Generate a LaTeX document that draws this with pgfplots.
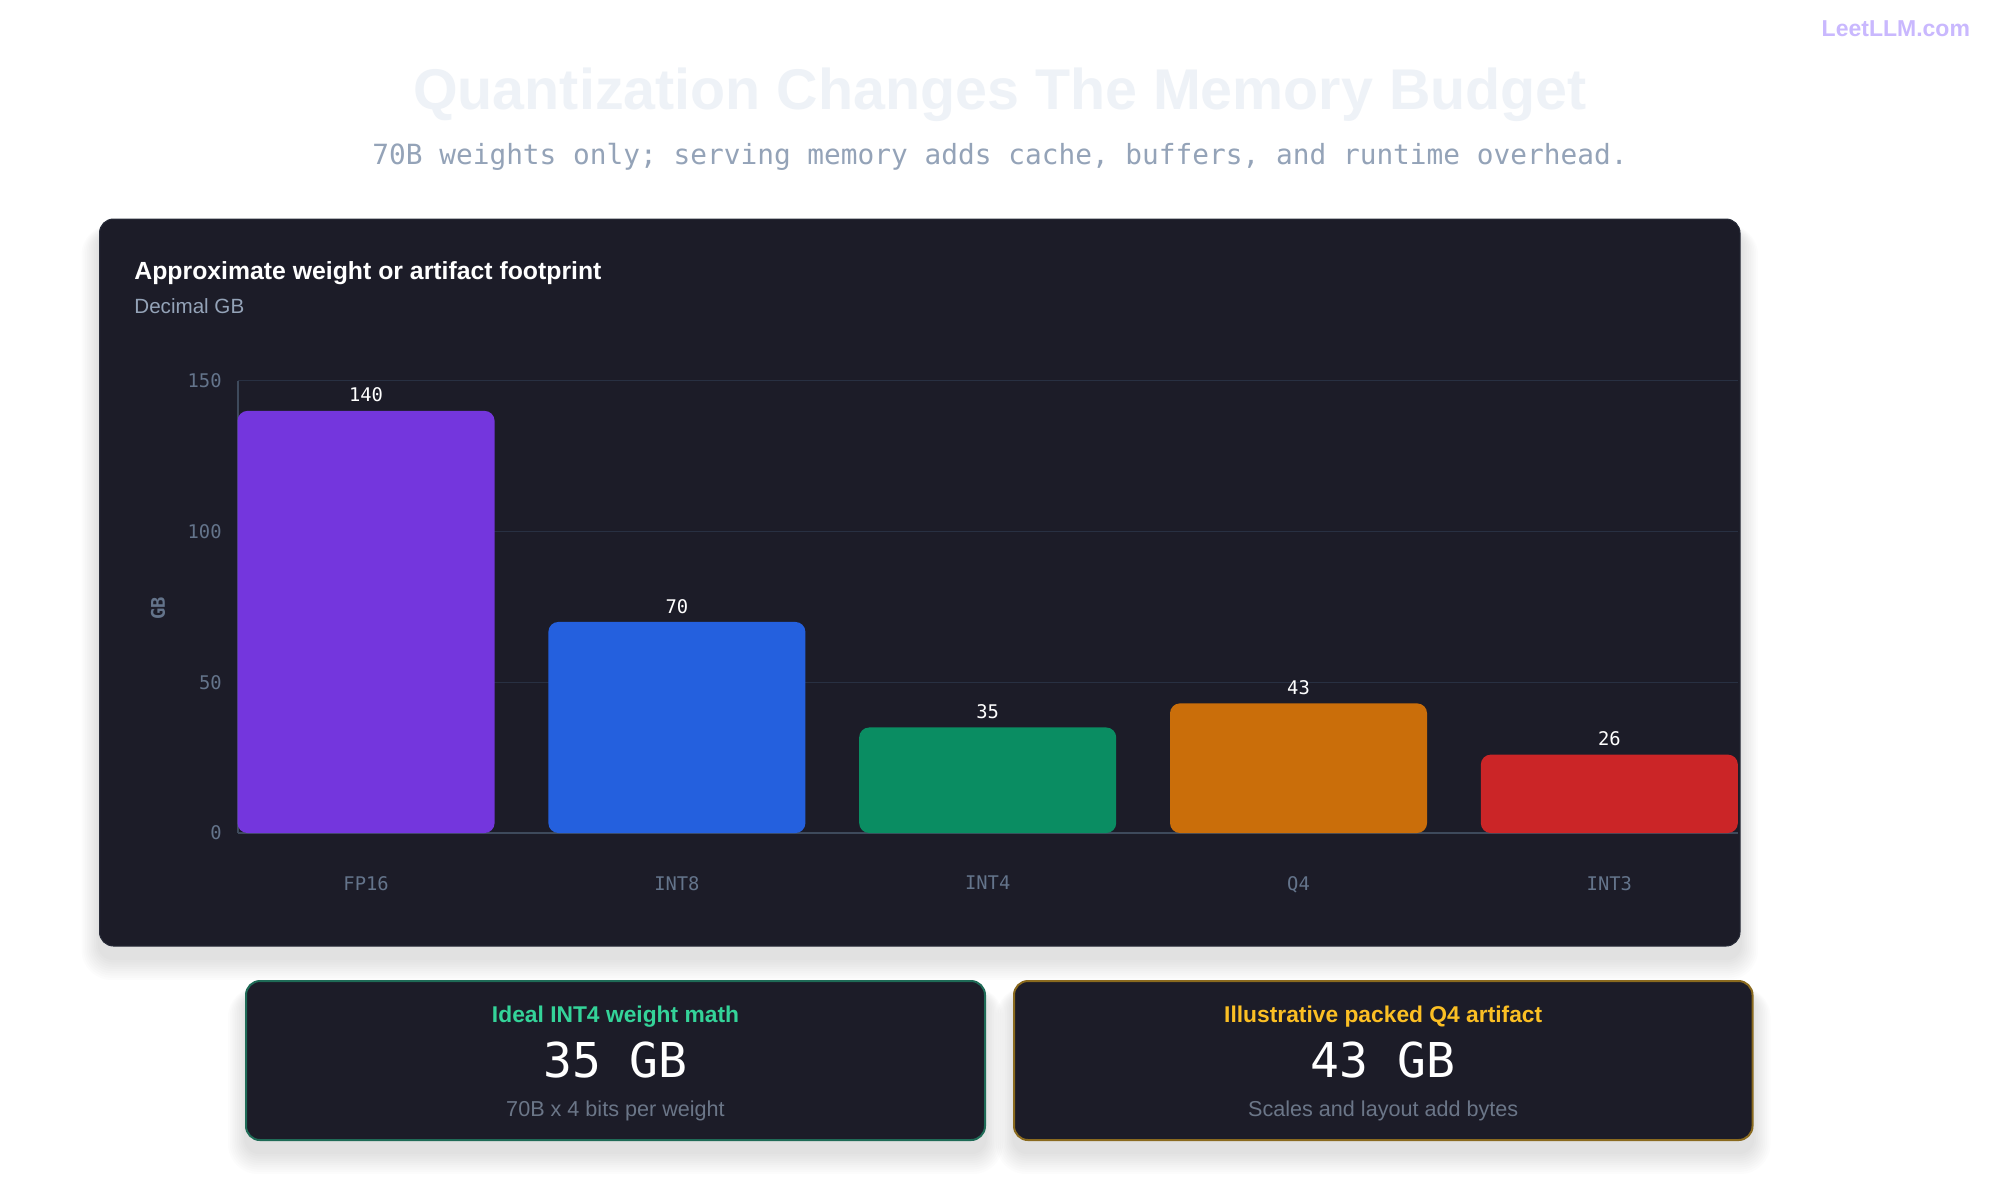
\documentclass[border=0pt]{standalone}
\usepackage{pgfplots}
\pgfplotsset{compat=1.18}
\usepackage{fontspec}
\setmainfont{Liberation Sans}
\newfontfamily\mono{DejaVu Sans Mono}
\definecolor{panelbg}{HTML}{1C1C28}
\definecolor{panelborder}{HTML}{272B38}
\definecolor{titlec}{HTML}{EEF2F7}
\definecolor{subc}{HTML}{94A3B8}
\definecolor{wmark}{HTML}{C9B8FE}
\definecolor{tickc}{HTML}{64748B}
\definecolor{axisline}{HTML}{3E4A5C}
\definecolor{gridc}{HTML}{283042}
\definecolor{cA}{HTML}{7436DD}
\definecolor{cB}{HTML}{2460DE}
\definecolor{cC}{HTML}{0A8D62}
\definecolor{cD}{HTML}{CA6E0A}
\definecolor{cE}{HTML}{CB2527}
\definecolor{greenb}{HTML}{1F6B57}
\definecolor{goldb}{HTML}{8A6A1F}
\definecolor{greent}{HTML}{34D399}
\definecolor{goldt}{HTML}{FBBF24}
\definecolor{cardsub}{HTML}{6B7688}
\usetikzlibrary{calc}
\newcommand{\softshadow}[4]{%
  \foreach \i in {1,...,10}{%
    \fill[black, opacity=0.012, rounded corners=7pt+\i*0.8pt]
      ($(#1pt,#2pt)+(-\i*0.9pt,\i*0.3pt-6pt)$) rectangle ($(#3pt,#4pt)+(\i*0.9pt,-\i*1.1pt-6pt)$);
  }%
}
\begin{document}
\begin{tikzpicture}
\fill[white] (0pt,0pt) rectangle (1000pt,-590pt);
% titles
\node[text=titlec, font=\bfseries\fontsize{28.7}{34}\selectfont] at (500pt,-47.5pt) {Quantization Changes The Memory Budget};
\node[text=subc, font=\mono\fontsize{13.9}{16}\selectfont] at (500pt,-78.5pt) {70B weights only; serving memory adds cache, buffers, and runtime overhead.};
\node[text=wmark, font=\bfseries\fontsize{11.5}{14}\selectfont, anchor=east] at (988.5pt,-14.5pt) {LeetLLM.com};
% panel
\softshadow{49.75}{-109.5}{870}{-473}
\fill[panelbg, rounded corners=7pt] (49.75pt,-109.5pt) rectangle (870pt,-473pt);
\draw[panelborder, line width=0.5pt, rounded corners=7pt] (49.75pt,-109.5pt) rectangle (870pt,-473pt);
\node[text=white, font=\bfseries\fontsize{12.4}{15}\selectfont, anchor=west, inner sep=0pt] at (67pt,-136.5pt) {Approximate weight or artifact footprint};
\node[text=subc, font=\fontsize{10.3}{12}\selectfont, anchor=west, inner sep=0pt] at (67pt,-153pt) {Decimal GB};
\node[text=tickc, font=\mono\bfseries\fontsize{9.4}{11}\selectfont, rotate=90] at (79pt,-304pt) {GB};
\begin{axis}[
 at={(118.85pt,-416.5pt)}, anchor=south west,
 scale only axis, width=750pt, height=226.15pt,
 xmin=-0.413, xmax=4.413, ymin=0, ymax=150,
 ybar, bar width=0.827,
 xtick={0,1,2,3,4}, xticklabels={FP16,INT8,INT4,Q4,INT3},
 ytick={0,50,100,150}, yticklabels={0,50,100,150},
 major tick length=0pt,
 axis x line*=bottom, axis y line*=left,
 axis line style={-, color=axisline, line width=0.9pt},
 ymajorgrids, grid style={color=gridc, line width=0.7pt},
 tick label style={font=\mono\fontsize{9.4}{11}\selectfont, text=tickc},
 xticklabel style={yshift=-18pt},
 yticklabel style={xshift=-4.5pt},
 nodes near coords,
 nodes near coords style={font=\mono\fontsize{9.4}{11}\selectfont, text=white, yshift=0.8pt},
 /pgf/number format/assume math mode=true,
 clip=false,
]
\addplot[fill=cA, draw=none, bar shift=0pt, rounded corners=5pt] coordinates {(0,140)};
\addplot[fill=cB, draw=none, bar shift=0pt, rounded corners=5pt] coordinates {(1,70)};
\addplot[fill=cC, draw=none, bar shift=0pt, rounded corners=5pt] coordinates {(2,35)};
\addplot[fill=cD, draw=none, bar shift=0pt, rounded corners=5pt] coordinates {(3,43)};
\addplot[fill=cE, draw=none, bar shift=0pt, rounded corners=5pt] coordinates {(4,26)};
\end{axis}
% cards
\softshadow{123}{-490.5}{492.5}{-570}
\softshadow{507}{-490.5}{876.25}{-570}
\filldraw[fill=panelbg, draw=greenb, line width=1pt, rounded corners=7pt] (123pt,-490.5pt) rectangle (492.5pt,-570pt);
\filldraw[fill=panelbg, draw=goldb, line width=1pt, rounded corners=7pt] (507pt,-490.5pt) rectangle (876.25pt,-570pt);
\node[text=greent, font=\bfseries\fontsize{11.4}{13}\selectfont] at (307.75pt,-508.3pt) {Ideal INT4 weight math};
\node[text=white, font=\mono\fontsize{24}{28}\selectfont] at (307.75pt,-530pt) {35 GB};
\node[text=cardsub, font=\fontsize{10.8}{13}\selectfont] at (307.75pt,-555.5pt) {70B x 4 bits per weight};
\node[text=goldt, font=\bfseries\fontsize{11.4}{13}\selectfont] at (691.6pt,-508.3pt) {Illustrative packed Q4 artifact};
\node[text=white, font=\mono\fontsize{24}{28}\selectfont] at (691.6pt,-530pt) {43 GB};
\node[text=cardsub, font=\fontsize{10.8}{13}\selectfont] at (691.6pt,-555.5pt) {Scales and layout add bytes};
\end{tikzpicture}
\end{document}
